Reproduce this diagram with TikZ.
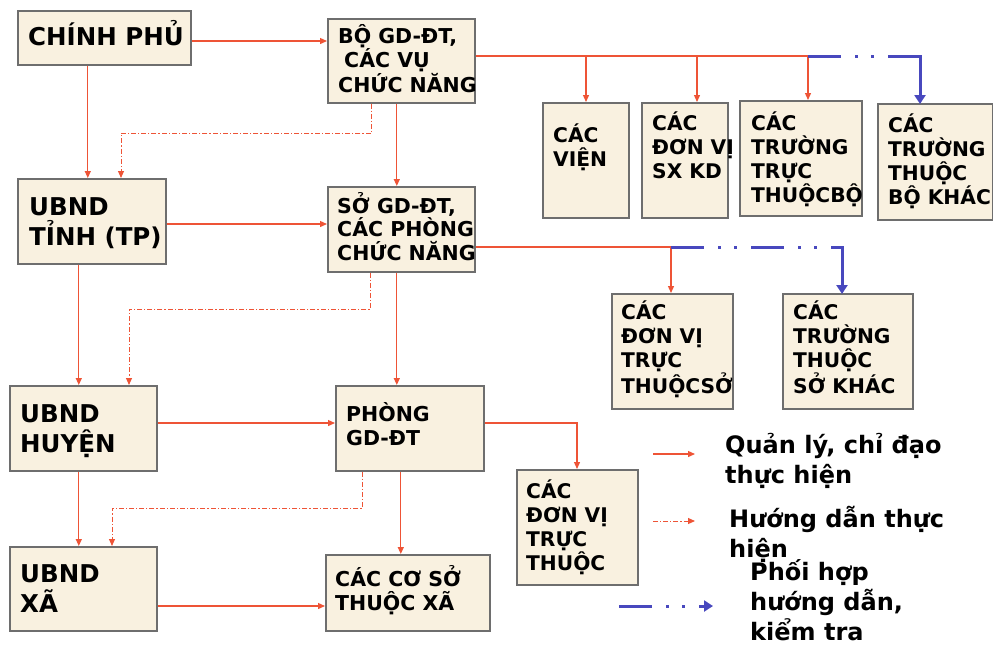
\documentclass[tikz,border=0pt]{standalone}
\usepackage{fontspec}
\setmainfont{DejaVu Sans}[BoldFont={DejaVu Sans Bold}]
\usetikzlibrary{arrows.meta}
\definecolor{boxfill}{RGB}{249,241,224}
\definecolor{boxline}{RGB}{110,110,110}
\definecolor{ctrlred}{RGB}{238,84,54}
\definecolor{coblue}{RGB}{72,72,190}
\tikzset{
  box/.style={draw=boxline, line width=1.6pt, fill=boxfill, inner sep=0pt, anchor=north west},
  bigtxt/.style={font=\bfseries\fontsize{24.5}{30}\selectfont, align=left, anchor=base west, inner sep=0pt},
  midtxt/.style={font=\bfseries\fontsize{20.5}{23.5}\selectfont, align=left, anchor=base west, inner sep=0pt},
  smtxt/.style={font=\bfseries\fontsize{20.2}{24}\selectfont, align=left, anchor=base west, inner sep=0pt},
  legtxt/.style={font=\bfseries\fontsize{24}{30}\selectfont, align=left, anchor=base west, inner sep=0pt},
  ctrl/.style={draw=ctrlred, line width=1.3pt, -{Triangle[length=7pt,width=6pt]}},
  ctrlline/.style={draw=ctrlred, line width=1.3pt},
  guide/.style={draw=ctrlred, line width=1pt, dash pattern=on 5pt off 2pt on 1.2pt off 2pt, -{Triangle[length=7pt,width=6pt]}},
  coopline/.style={draw=coblue, line width=3pt, dash pattern=on 33pt off 14pt on 3pt off 13pt on 3pt off 14pt},
  coop/.style={draw=coblue, line width=3pt, -{Triangle[length=9pt,width=11pt]}},
}
\begin{document}
\begin{tikzpicture}[x=1pt,y=-1pt]
\useasboundingbox (0,0) rectangle (993,649);
% boxes
\node[box, minimum width=173pt, minimum height=54pt] (cp) at (17,10) {};
\node[box, minimum width=147pt, minimum height=84pt] (bo) at (327,18) {};
\node[box, minimum width=148pt, minimum height=85pt] (ut) at (17,178) {};
\node[box, minimum width=147pt, minimum height=85pt] (so) at (327,186) {};
\node[box, minimum width=147pt, minimum height=85pt] (uh) at (9,385) {};
\node[box, minimum width=148pt, minimum height=85pt] (ph) at (335,385) {};
\node[box, minimum width=147pt, minimum height=84pt] (ux) at (9,546) {};
\node[box, minimum width=164pt, minimum height=76pt] (cs) at (325,554) {};
\node[box, minimum width=86pt, minimum height=115pt] (v1) at (542,102) {};
\node[box, minimum width=86pt, minimum height=115pt] (dv) at (641,102) {};
\node[box, minimum width=122pt, minimum height=115pt] (tb) at (739,100) {};
\node[box, minimum width=115pt, minimum height=116pt] (bk) at (877,103) {};
\node[box, minimum width=121pt, minimum height=115pt] (ds) at (611,293) {};
\node[box, minimum width=130pt, minimum height=115pt] (sk) at (782,293) {};
\node[box, minimum width=121pt, minimum height=115pt] (dt) at (516,469) {};
% texts (anchored at the baseline of the last line)
\node[bigtxt] (tcp) at (28,45) {CHÍNH PHỦ};
\node[midtxt] (tbo) at (338,92) {BỘ GD-ĐT,\\\hspace*{6pt}CÁC VỤ\\CHỨC NĂNG};
\node[bigtxt] (tut) at (29,245) {UBND\\TỈNH (TP)};
\node[midtxt] (tso) at (337,260) {SỞ GD-ĐT,\\CÁC PHÒNG\\CHỨC NĂNG};
\node[bigtxt] (tuh) at (20,452) {UBND\\HUYỆN};
\node[midtxt] (tph) at (346,445) {PHÒNG\\GD-ĐT};
\node[bigtxt] (tux) at (20,612) {UBND\\XÃ};
\node[midtxt] (tcs) at (335,610) {CÁC CƠ SỞ\\THUỘC XÃ};
\node[smtxt] (tv1) at (553,166) {CÁC\\VIỆN};
\node[smtxt] (tdv) at (652,178) {CÁC\\ĐƠN VỊ\\SX KD};
\node[smtxt] (ttb) at (751,202) {CÁC\\TRƯỜNG\\TRỰC\\THUỘCBỘ};
\node[smtxt] (tbk) at (888,204) {CÁC\\TRƯỜNG\\THUỘC\\BỘ KHÁC};
\node[smtxt] (tds) at (621,393) {CÁC\\ĐƠN VỊ\\TRỰC\\THUỘCSỞ};
\node[smtxt] (tsk) at (793,393) {CÁC\\TRƯỜNG\\THUỘC\\SỞ KHÁC};
\node[smtxt] (tdt) at (526,570) {CÁC\\ĐƠN VỊ\\TRỰC\\THUỘC};
% legend texts
\node[legtxt] (lg1) at (725,483) {Quản lý, chỉ đạo\\thực hiện};
\node[legtxt] (lg2) at (729,557) {Hướng dẫn thực\\hiện};
\node[legtxt] (lg3) at (750,640) {Phối hợp\\hướng dẫn,\\kiểm tra};
% junction coordinates
\coordinate (r1) at (0,41);
\coordinate (r2) at (0,224);
\coordinate (r3) at (0,423);
\coordinate (r4) at (0,606);
\coordinate (ja) at (586,56);
\coordinate (jb) at (697,56);
\coordinate (jc) at (808,56);
\coordinate (jd) at (920,56);
\coordinate (je) at (671,247);
\coordinate (jf) at (842,247);
\coordinate (jg) at (577,423);
\coordinate (g1) at (121,133);
\coordinate (g2) at (129,309);
\coordinate (g3) at (112,508);
% horizontal control arrows
\draw[ctrl] (cp.east |- r1) -- (bo.west |- r1);
\draw[ctrl] (ut.east |- r2) -- (so.west |- r2);
\draw[ctrl] (uh.east |- r3) -- (ph.west |- r3);
\draw[ctrl] (ux.east |- r4) -- (cs.west |- r4);
% vertical control arrows
\draw[ctrl] ([xshift=-16.5]cp.south) -- ([xshift=-16.5]cp.south |- ut.north);
\draw[ctrl] ([xshift=-13]ut.south) -- ([xshift=-13]ut.south |- uh.north);
\draw[ctrl] ([xshift=-4.5]uh.south) -- ([xshift=-4.5]uh.south |- ux.north);
\draw[ctrl] ([xshift=-4.5]bo.south) -- ([xshift=-4.5]bo.south |- so.north);
\draw[ctrl] ([xshift=-4.5]so.south) -- ([xshift=-4.5]so.south |- ph.north);
\draw[ctrl] ([xshift=-9]ph.south) -- ([xshift=-9]ph.south |- cs.north);
% guidance (dash-dot) arrows
\draw[guide] ([xshift=-29.5]bo.south) |- (g1) -- (g1 |- ut.north);
\draw[guide] ([xshift=-30.5]so.south) |- (g2) -- (g2 |- uh.north);
\draw[guide] ([xshift=-47]ph.south) |- (g3) -- (g3 |- ux.north);
% top trunk
\draw[ctrlline] (bo.east |- ja) -- (jc);
\draw[ctrl] (ja) -- (ja |- v1.north);
\draw[ctrl] (jb) -- (jb |- dv.north);
\draw[ctrl] (jc) -- (jc |- tb.north);
\draw[coopline] (jc) -- (jd);
\draw[coop] ([xshift=1.5pt]jd) -| ([yshift=-1pt]jd |- bk.north);
% second trunk
\draw[ctrlline] (so.east |- je) -- (je);
\draw[ctrl] (je) -- (je |- ds.north);
\draw[coopline] (je) -- (jf);
\draw[coop] ([xshift=-6pt]jf) -| ([yshift=-1pt]jf |- sk.north);
% third
\draw[ctrl] (ph.east |- r3) -- (jg) -- (jg |- dt.north);
% legend arrows
\coordinate (la1) at (653,454);
\coordinate (lb1) at (695,454);
\coordinate (la2) at (653,521);
\coordinate (lb2) at (695,521);
\coordinate (la3) at (619,606);
\coordinate (lb3) at (713,606);
\draw[ctrl] (la1) -- (lb1);
\draw[guide] (la2) -- (lb2);
\draw[coopline, -{Triangle[length=9pt,width=11pt]}] (la3) -- (lb3);
\end{tikzpicture}
\end{document}
